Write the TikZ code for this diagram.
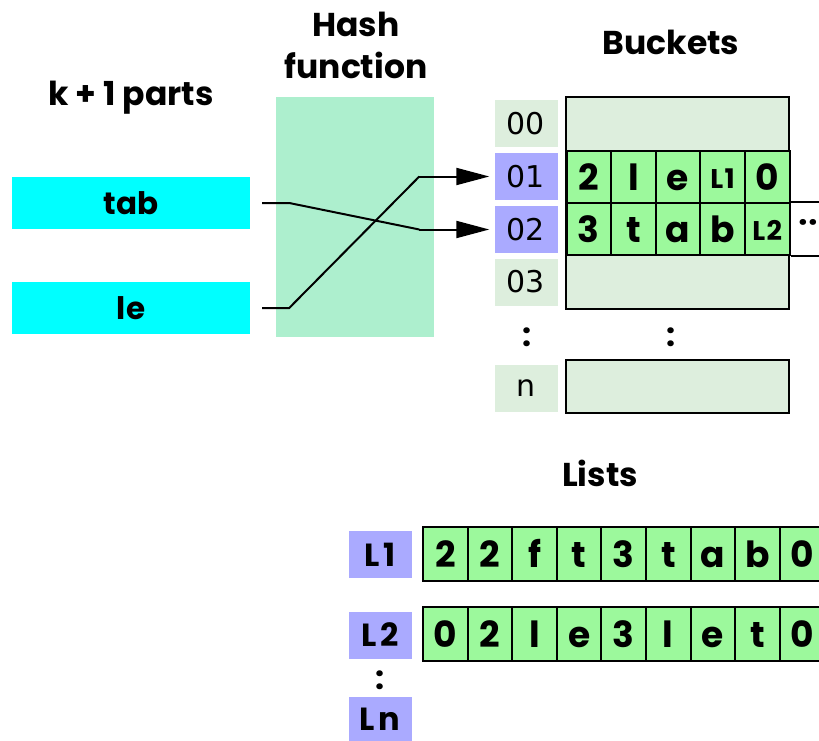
\documentclass[tikz,border=0pt]{standalone}
\usepackage{fontspec}
\setmainfont{Poppins}
\newfontfamily\idxfont{DejaVu Sans}
\usetikzlibrary{arrows.meta}

\definecolor{partcol}{RGB}{0,255,255}
\definecolor{hashcol}{RGB}{173,239,206}
\definecolor{idxcol}{RGB}{221,238,221}
\definecolor{selcol}{RGB}{170,170,255}
\definecolor{cellcol}{RGB}{156,249,156}

\tikzset{
  title/.style={font=\fontsize{33}{42}\selectfont\bfseries, align=center},
  part/.style={fill=partcol, minimum width=238pt, minimum height=52pt, inner sep=0pt, font=\fontsize{31}{34}\selectfont\bfseries},
  idx/.style={fill=idxcol, minimum width=63pt, minimum height=47pt, inner sep=0pt, font=\fontsize{30}{32}\idxfont},
  sel/.style={idx, fill=selcol},
  lab/.style={fill=selcol, minimum width=63pt, minimum height=47pt, inner sep=0pt, font=\fontsize{32}{34}\selectfont\bfseries},
  cell/.style={draw, line width=2pt, fill=cellcol, minimum width=44.6pt, minimum height=52pt, inner sep=0pt,
    text height=27pt, text depth=0pt, font=\fontsize{36}{38}\selectfont\bfseries},
  small/.style={font=\fontsize{27}{28}\selectfont\bfseries, text height=22pt},
  bucket/.style={draw, line width=2pt, fill=idxcol},
  link/.style={line width=2pt, shorten >=5pt, -{Triangle[length=33pt,width=17pt]}},
  dots/.style={font=\fontsize{32}{34}\selectfont\bfseries},
}

\begin{document}
\begin{tikzpicture}[x=1pt, y=-1pt]
\clip (0,0) rectangle (819,741);

% Titles
\node[title] (tparts) at (131,98) {k + 1 parts};
\node[title] (thash) at (356,45) {Hash\\function};
\node[title] (tbuck) at (671,42) {Buckets};
\node[title] (tlist) at (600,473) {Lists};

% Parts and hash function
\node[fill=hashcol, minimum width=158pt, minimum height=240pt] (hash) at (355,217) {};
\node[part] (tab) at (131,203) {tab};
\node[part] (le) at (131,308) {le};

% Bucket indices
\node[idx] (b00) at (526,124) {00};
\node[sel] (b01) at (526,176.5) {01};
\node[sel] (b02) at (526,229.5) {02};
\node[idx] (b03) at (526,282) {03};
\node[dots] (bdots) at (527,337) {:};
\node[idx] (bn) at (526,388) {n};

% Buckets
\draw[bucket] (566,97) rectangle (789,309);
\draw[line width=2pt] (566,151) -- (789,151);
\draw[line width=2pt] (566,255) -- (789,255);
\node[dots] (cdots) at (671,337) {:};
\draw[bucket] (566,360) rectangle (789,413);

% Bucket cells
\foreach \c [count=\i from 0] in {2,l,e}
  \node[cell] (ba\i) at ({588.8+44.6*\i},177) {\c};
\node[cell, small] (ba3) at ({588.8+44.6*3},177) {L\kern1.5pt1};
\node[cell] (ba4) at ({588.8+44.6*4},177) {0};
\foreach \c [count=\i from 0] in {3,t,a,b}
  \node[cell] (bb\i) at ({588.8+44.6*\i},229) {\c};
\node[cell, small] (bb4) at ({588.8+44.6*4},229) {L\kern1.5pt2};
\draw[line width=2pt] (bb4.north east) -- ++(40,0);
\draw[line width=2pt] (bb4.south east) -- ++(40,0);
\node[dots, anchor=east, inner sep=1pt] (more) at (819,226) {··};

% Hash links
\draw[line width=2pt] ([xshift=12pt]tab.east) -- ++(27,0) -- ([xshift=-75pt]b02.west);
\draw[link] ([xshift=-75pt]b02.west) -- (b02.west);
\draw[line width=2pt] ([xshift=12pt]le.east) -- ++(27,0) -- ([xshift=-75pt]b01.west);
\draw[link] ([xshift=-75pt]b01.west) -- (b01.west);

% Lists
\node[lab] (l1) at (380,554.5) {L\kern4pt1};
\node[lab] (l2) at (380,635) {L\kern4pt2};
\node[dots] (ldots) at (380,680) {:};
\node[lab, minimum height=44pt] (ln) at (380,719) {L\kern4pt n};

\foreach \c [count=\i from 0] in {2,2,f,t,3,t,a,b,0}
  \node[cell, minimum height=54pt] (la\i) at ({445.3+44.6*\i},554) {\c};
\foreach \c [count=\i from 0] in {0,2,l,e,3,l,e,t,0}
  \node[cell, minimum height=54pt] (lb\i) at ({445.3+44.6*\i},634) {\c};
\end{tikzpicture}
\end{document}
